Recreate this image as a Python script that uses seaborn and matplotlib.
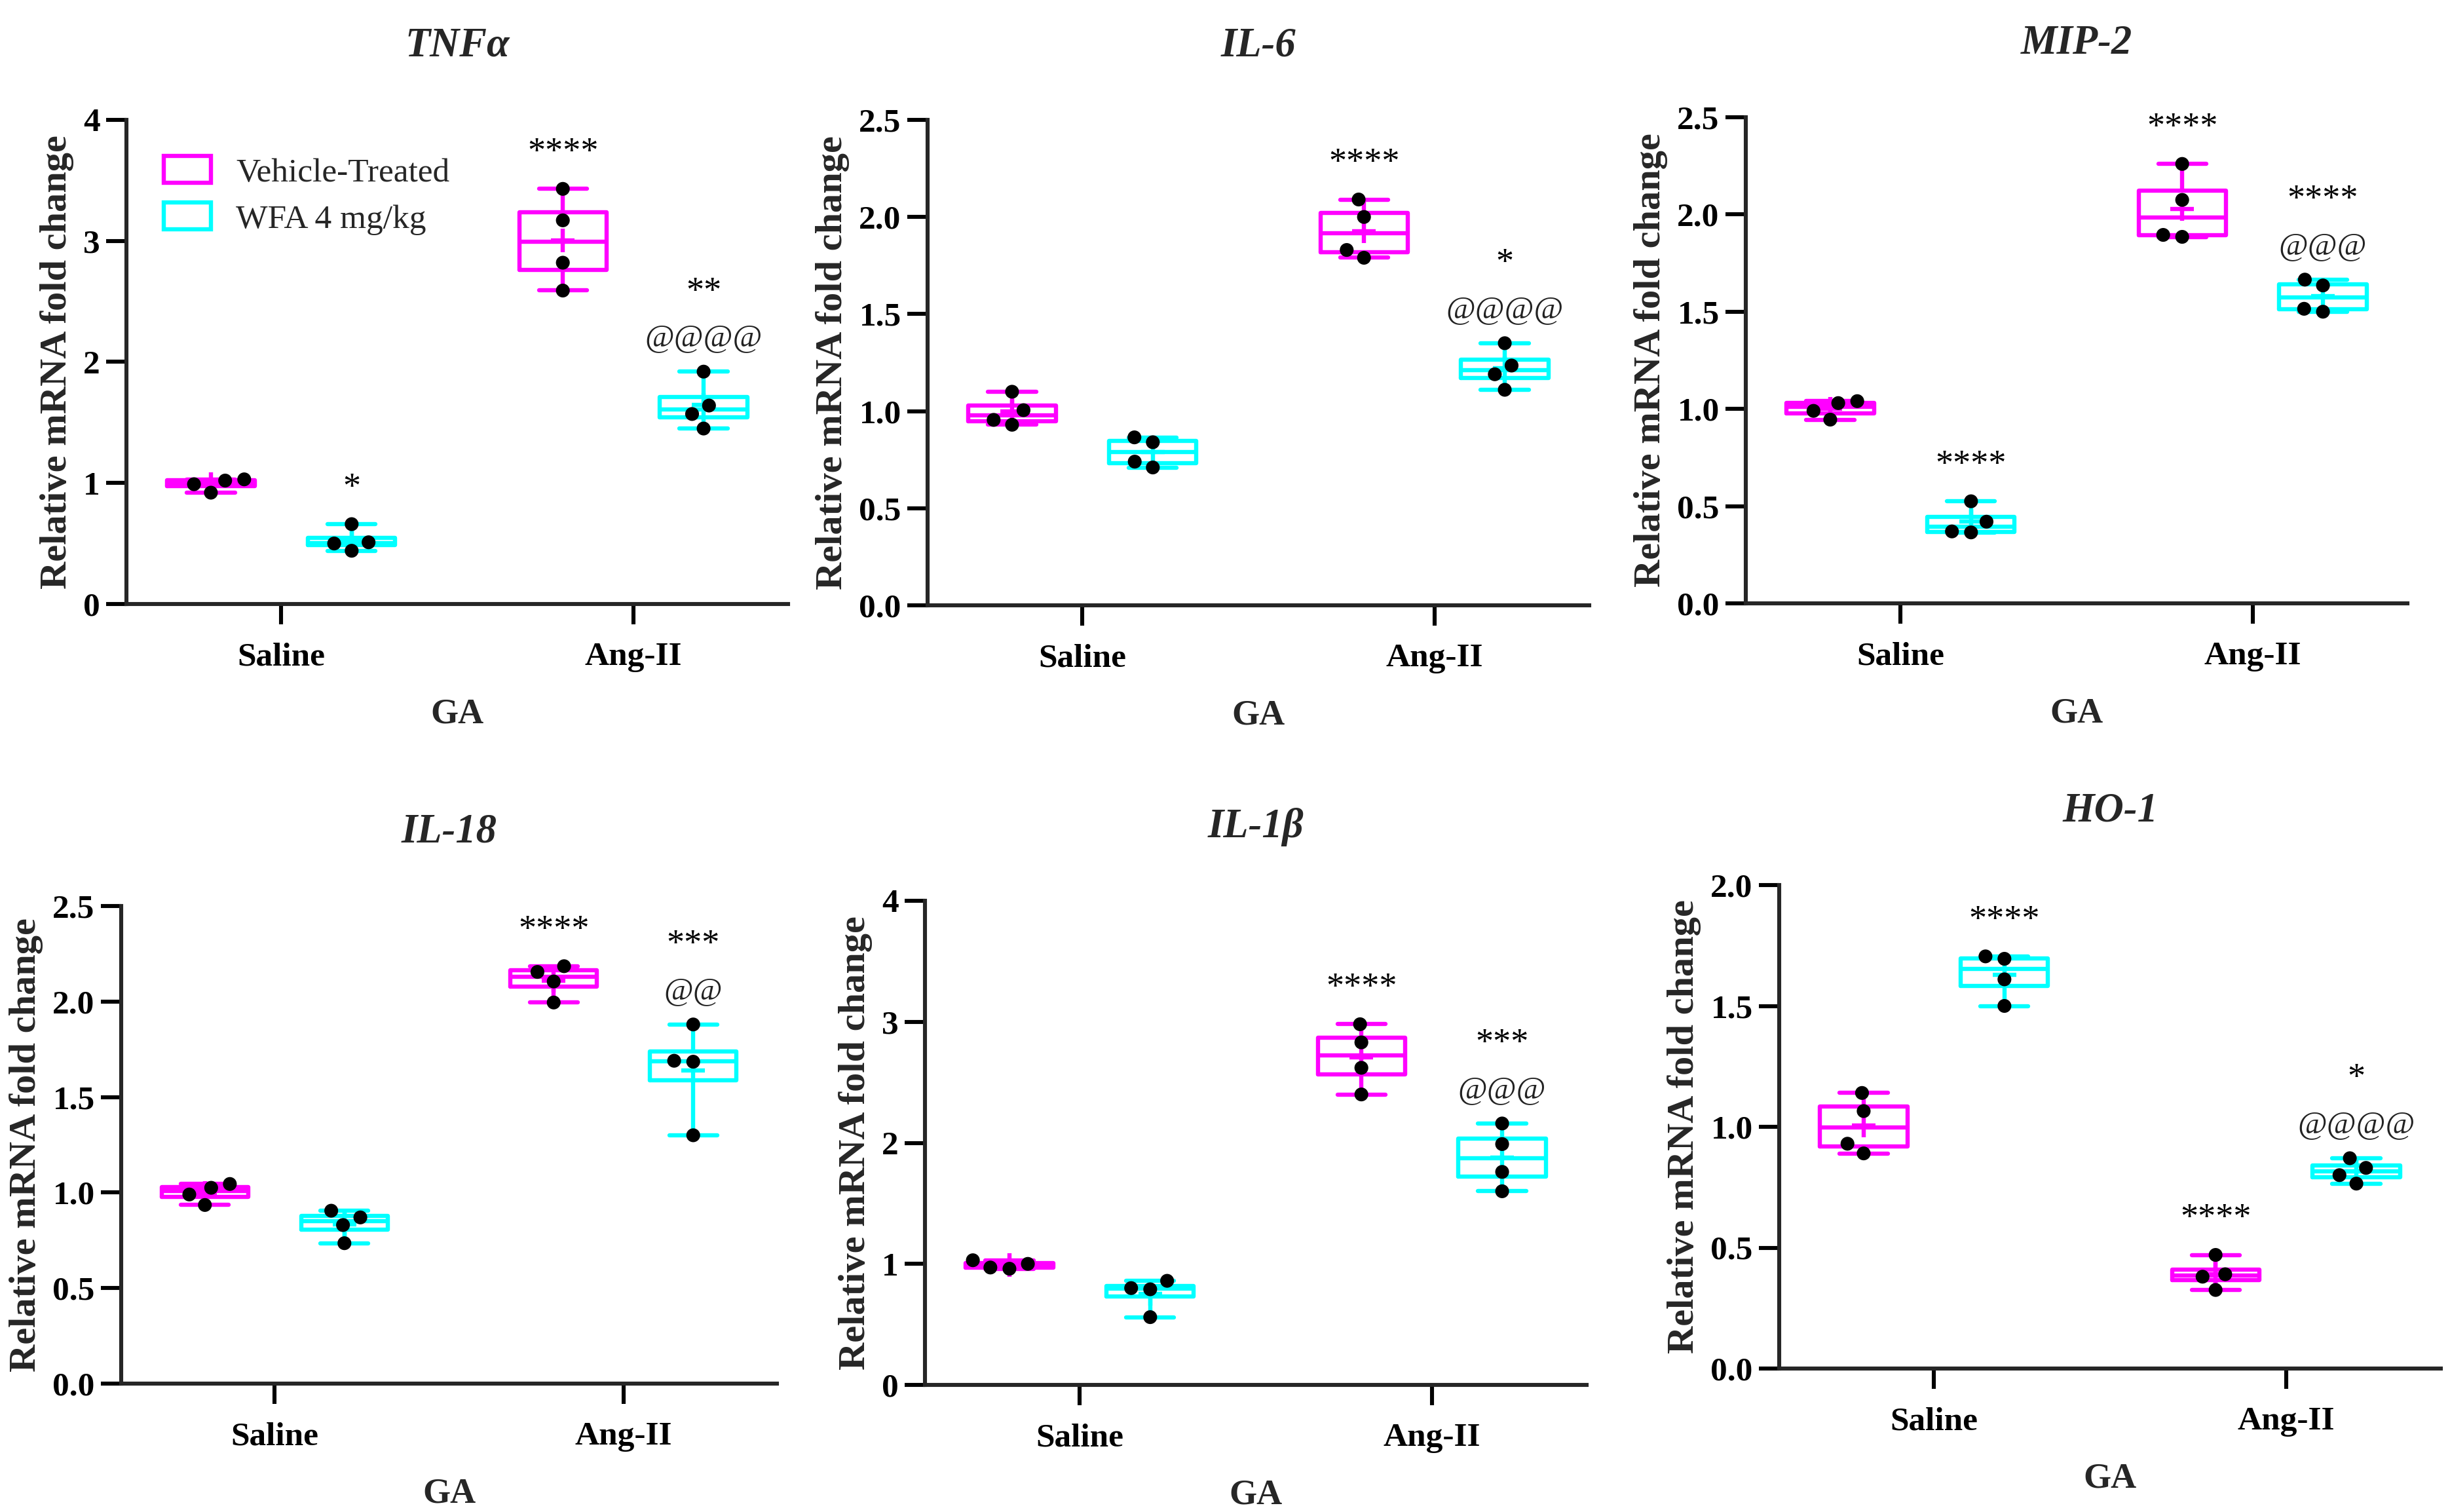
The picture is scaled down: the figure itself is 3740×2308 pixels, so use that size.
import numpy as np
import pandas as pd
import matplotlib
matplotlib.use("Agg")
import matplotlib.pyplot as plt
from matplotlib.patches import Patch
import seaborn as sns

# ---------------- data ----------------
groups = ["Saline", "Ang-II"]
treatments = ["Vehicle-Treated", "WFA 4 mg/kg"]
box_colors = ["#FF00FF", "#00FFFF"]
x_label = "GA"
y_label = "Relative mRNA fold change"

titles = ["TNFα", "IL-6", "MIP-2", "IL-18", "IL-1β", "HO-1"]

tnfa_veh_saline = [0.92, 1.03, 0.99, 1.02]
tnfa_wfa_saline = [0.44, 0.66, 0.51, 0.50]
tnfa_veh_angii = [3.43, 3.17, 2.82, 2.59]
tnfa_wfa_angii = [1.92, 1.64, 1.57, 1.45]

il6_veh_saline = [0.93, 1.10, 1.005, 0.955]
il6_wfa_saline = [0.84, 0.865, 0.71, 0.74]
il6_veh_angii = [2.09, 2.00, 1.83, 1.79]
il6_wfa_angii = [1.35, 1.235, 1.19, 1.11]

mip2_veh_saline = [1.04, 1.03, 0.99, 0.945]
mip2_wfa_saline = [0.525, 0.42, 0.365, 0.37]
mip2_veh_angii = [2.26, 2.075, 1.885, 1.895]
mip2_wfa_angii = [1.635, 1.665, 1.50, 1.515]

il18_veh_saline = [1.045, 1.025, 0.99, 0.935]
il18_wfa_saline = [0.905, 0.87, 0.83, 0.735]
il18_veh_angii = [2.155, 2.185, 2.105, 1.995]
il18_wfa_angii = [1.88, 1.69, 1.685, 1.30]

il1b_veh_saline = [0.96, 1.03, 0.97, 1.00]
il1b_wfa_saline = [0.86, 0.79, 0.80, 0.56]
il1b_veh_angii = [2.98, 2.83, 2.62, 2.40]
il1b_wfa_angii = [2.16, 1.99, 1.76, 1.60]

ho1_veh_saline = [1.14, 1.065, 0.93, 0.89]
ho1_wfa_saline = [1.695, 1.705, 1.61, 1.50]
ho1_veh_angii = [0.47, 0.39, 0.38, 0.325]
ho1_wfa_angii = [0.87, 0.83, 0.80, 0.765]

yticks_tnfa = [0, 1, 2, 3, 4]
yticks_il6 = [0.0, 0.5, 1.0, 1.5, 2.0, 2.5]
yticks_mip2 = [0.0, 0.5, 1.0, 1.5, 2.0, 2.5]
yticks_il18 = [0.0, 0.5, 1.0, 1.5, 2.0, 2.5]
yticks_il1b = [0, 1, 2, 3, 4]
yticks_ho1 = [0.0, 0.5, 1.0, 1.5, 2.0]

# significance labels, group order: Saline/Veh, Saline/WFA, Ang-II/Veh, Ang-II/WFA
stars_tnfa = ["", "*", "****", "**"]
ats_tnfa = ["", "", "", "@@@@"]
stars_il6 = ["", "", "****", "*"]
ats_il6 = ["", "", "", "@@@@"]
stars_mip2 = ["", "****", "****", "****"]
ats_mip2 = ["", "", "", "@@@"]
stars_il18 = ["", "", "****", "***"]
ats_il18 = ["", "", "", "@@"]
stars_il1b = ["", "", "****", "***"]
ats_il1b = ["", "", "", "@@@"]
stars_ho1 = ["", "****", "****", "*"]
ats_ho1 = ["", "", "", "@@@@"]

panels = [
    (titles[0], [tnfa_veh_saline, tnfa_wfa_saline, tnfa_veh_angii, tnfa_wfa_angii], yticks_tnfa, stars_tnfa, ats_tnfa),
    (titles[1], [il6_veh_saline, il6_wfa_saline, il6_veh_angii, il6_wfa_angii], yticks_il6, stars_il6, ats_il6),
    (titles[2], [mip2_veh_saline, mip2_wfa_saline, mip2_veh_angii, mip2_wfa_angii], yticks_mip2, stars_mip2, ats_mip2),
    (titles[3], [il18_veh_saline, il18_wfa_saline, il18_veh_angii, il18_wfa_angii], yticks_il18, stars_il18, ats_il18),
    (titles[4], [il1b_veh_saline, il1b_wfa_saline, il1b_veh_angii, il1b_wfa_angii], yticks_il1b, stars_il1b, ats_il1b),
    (titles[5], [ho1_veh_saline, ho1_wfa_saline, ho1_veh_angii, ho1_wfa_angii], yticks_ho1, stars_ho1, ats_ho1),
]

# ---------------- layout / style ----------------
W, H, DPI = 3740, 2308, 200
axes_px = [
    (193, 183, 1203, 922),
    (1416, 183, 2426, 924),
    (2665, 179, 3675, 921),
    (185, 1383, 1186, 2112),
    (1412, 1375, 2422, 2114),
    (2716, 1351, 3726, 2089),
]
WIDTH = 0.8
GAP = 0.38
BOXW = WIDTH / 2 * (1 - GAP)
LW = 2.3

sns.set_style("ticks")
plt.rcParams["font.family"] = ["Liberation Serif", "DejaVu Serif"]

fig = plt.figure(figsize=(W / DPI, H / DPI), dpi=DPI)

for i, (title, vals, yticks, stars, ats) in enumerate(panels):
    L, T, R, B = axes_px[i]
    ax = fig.add_axes([L / W, 1 - B / H, (R - L) / W, (B - T) / H])

    rows = []
    k = 0
    for g in groups:
        for t in treatments:
            for v in vals[k]:
                rows.append({"GA": g, "Treatment": t, "value": v})
            k += 1
    df = pd.DataFrame(rows)

    sns.boxplot(
        data=df, x="GA", y="value", hue="Treatment",
        order=groups, hue_order=treatments, palette=box_colors,
        fill=False, width=WIDTH, gap=GAP, whis=np.inf, linewidth=LW,
        dodge=True, legend=False, showmeans=True,
        meanprops=dict(marker="+", markersize=13, markeredgewidth=LW,
                       markeredgecolor="k"),
        capwidths=0.55 * BOXW, ax=ax,
    )
    for c in ax.containers:
        boxes = getattr(c, "boxes", None)
        means = getattr(c, "means", None)
        if not boxes or not means:
            continue
        b0 = boxes[0]
        col = b0.get_color() if hasattr(b0, "get_color") else b0.get_edgecolor()
        for m in means:
            m.set_markeredgecolor(col)
            m.set_markerfacecolor(col)

    sns.swarmplot(
        data=df, x="GA", y="value", hue="Treatment",
        order=groups, hue_order=treatments,
        palette={t: "black" for t in treatments},
        dodge=True, size=7.6, linewidth=2.4,
        edgecolor="none", legend=False, ax=ax, zorder=5,
    )

    ax.set_xlim(-0.44, 1.44)
    ax.set_ylim(0, max(yticks))
    ax.set_yticks(yticks)
    if all(float(v).is_integer() for v in yticks) and max(yticks) > 2:
        ax.set_yticklabels([f"{v:g}" for v in yticks])
    else:
        ax.set_yticklabels([f"{v:.1f}" for v in yticks])

    sns.despine(ax=ax)
    for s in ["left", "bottom"]:
        ax.spines[s].set_linewidth(2.2)
    ax.tick_params(axis="both", width=2.2, length=11, labelsize=18.5, colors="black")
    ax.tick_params(axis="y", pad=3.5)
    ax.tick_params(axis="x", pad=10)
    for lbl in ax.get_xticklabels() + ax.get_yticklabels():
        lbl.set_fontweight("bold")

    ax.set_ylabel(y_label, fontsize=21, fontweight="bold", labelpad=5)
    ax.set_xlabel(x_label, fontsize=19.5, fontweight="bold", labelpad=14)
    ax.set_title(title, fontsize=22.5, fontweight="bold", fontstyle="italic", pad=35)

    k = 0
    for gi, g in enumerate(groups):
        for ti, t in enumerate(treatments):
            xpos = gi + (ti - 0.5) * WIDTH / 2
            ymax = max(vals[k])
            if ats[k]:
                ax.annotate(ats[k], xy=(xpos, ymax), xytext=(0, 14),
                            textcoords="offset points", ha="center", va="baseline",
                            fontsize=17.5, color="#222222", annotation_clip=False)
            if stars[k]:
                off = 38.8 if ats[k] else 14.8
                ax.annotate(stars[k], xy=(xpos, ymax), xytext=(0, off),
                            textcoords="offset points", ha="center", va="baseline",
                            fontsize=19.5, color="black", annotation_clip=False)
            k += 1

    if i == 0:
        handles = [Patch(facecolor="white", edgecolor=c, linewidth=LW) for c in box_colors]
        ax.legend(handles, treatments, loc="upper left", bbox_to_anchor=(0.056, 0.925),
                  frameon=False, fontsize=18.5, handlelength=1.4, handleheight=0.85,
                  handletextpad=0.75, labelspacing=0.42, borderpad=0, borderaxespad=0)

fig.savefig("out.png", dpi=DPI, facecolor="white")
